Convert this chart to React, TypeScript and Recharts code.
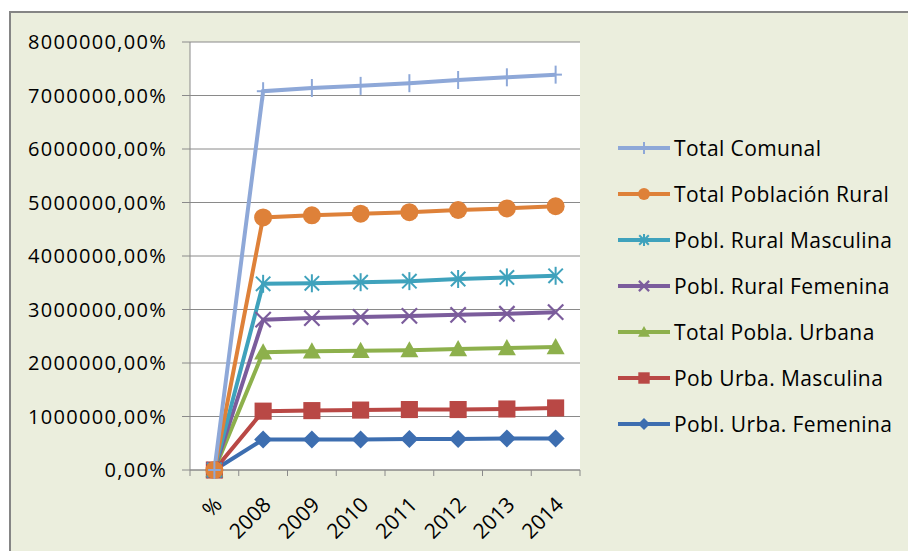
import React from 'react';
import { LineChart, Line, XAxis, YAxis, CartesianGrid } from 'recharts';

const categories = ['%', '2008', '2009', '2010', '2011', '2012', '2013', '2014'];

const totalComunal = [0, 7080000, 7140000, 7180000, 7230000, 7290000, 7340000, 7390000];
const totalRural = [0, 4720000, 4760000, 4790000, 4820000, 4860000, 4890000, 4930000];
const ruralMasculina = [0, 3480000, 3490000, 3510000, 3530000, 3570000, 3600000, 3630000];
const ruralFemenina = [0, 2810000, 2840000, 2860000, 2880000, 2900000, 2920000, 2950000];
const totalUrbana = [0, 2200000, 2220000, 2230000, 2240000, 2260000, 2280000, 2300000];
const urbanaMasculina = [0, 1100000, 1110000, 1120000, 1130000, 1130000, 1140000, 1160000];
const urbanaFemenina = [0, 570000, 570000, 570000, 580000, 580000, 590000, 590000];

const yTicks = [0, 1000000, 2000000, 3000000, 4000000, 5000000, 6000000, 7000000, 8000000];

type Shape = 'plus' | 'circle' | 'star' | 'x' | 'triangle' | 'square' | 'diamond';

const series: { key: string; name: string; color: string; shape: Shape; values: number[] }[] = [
  { key: 'comunal', name: 'Total Comunal', color: '#8EA8D8', shape: 'plus', values: totalComunal },
  { key: 'rural', name: 'Total Población Rural', color: '#DE8139', shape: 'circle', values: totalRural },
  { key: 'ruralM', name: 'Pobl. Rural Masculina', color: '#3FA2BC', shape: 'star', values: ruralMasculina },
  { key: 'ruralF', name: 'Pobl. Rural Femenina', color: '#7B5C9C', shape: 'x', values: ruralFemenina },
  { key: 'urbana', name: 'Total Pobla. Urbana', color: '#8DB04C', shape: 'triangle', values: totalUrbana },
  { key: 'urbanaM', name: 'Pob Urba. Masculina', color: '#B94845', shape: 'square', values: urbanaMasculina },
  { key: 'urbanaF', name: 'Pobl. Urba. Femenina', color: '#3D6EB0', shape: 'diamond', values: urbanaFemenina },
];

const chartData = categories.map((cat, i) => {
  const row: any = { cat };
  series.forEach(s => { row[s.key] = s.values[i]; });
  return row;
});

const FONT = '"Open Sans", Lato, sans-serif';
const AXIS = '#8a8a8a';
const PLOT_LEFT = 190;
const PLOT_RIGHT = 580;
const PLOT_TOP = 42;
const PLOT_BOTTOM = 470;
const HALF_BAND = (PLOT_RIGHT - PLOT_LEFT) / categories.length / 2;

function Marker({ shape, color, cx, cy, s }: { shape: Shape; color: string; cx: number; cy: number; s: number }) {
  switch (shape) {
    case 'plus':
      return (
        <g stroke={color} strokeWidth={2}>
          <line x1={cx} y1={cy - s} x2={cx} y2={cy + s} />
          <line x1={cx - s * 0.7} y1={cy} x2={cx + s * 0.7} y2={cy} />
        </g>
      );
    case 'circle':
      return <circle cx={cx} cy={cy} r={s} fill={color} />;
    case 'star':
      return (
        <g stroke={color} strokeWidth={2}>
          <line x1={cx - s * 0.8} y1={cy - s * 0.8} x2={cx + s * 0.8} y2={cy + s * 0.8} />
          <line x1={cx - s * 0.8} y1={cy + s * 0.8} x2={cx + s * 0.8} y2={cy - s * 0.8} />
          <line x1={cx} y1={cy - s} x2={cx} y2={cy + s} />
        </g>
      );
    case 'x':
      return (
        <g stroke={color} strokeWidth={2.2}>
          <line x1={cx - s * 0.85} y1={cy - s * 0.85} x2={cx + s * 0.85} y2={cy + s * 0.85} />
          <line x1={cx - s * 0.85} y1={cy + s * 0.85} x2={cx + s * 0.85} y2={cy - s * 0.85} />
        </g>
      );
    case 'triangle':
      return <polygon points={`${cx},${cy - s} ${cx + s},${cy + s * 0.8} ${cx - s},${cy + s * 0.8}`} fill={color} />;
    case 'square':
      return <rect x={cx - s * 0.95} y={cy - s * 0.95} width={s * 1.9} height={s * 1.9} fill={color} />;
    case 'diamond':
      return <polygon points={`${cx},${cy - s} ${cx + s},${cy} ${cx},${cy + s} ${cx - s},${cy}`} fill={color} />;
  }
  return null;
}

const XTick = ({ x, y, payload, index }: any) => (
  <g>
    <line x1={x - HALF_BAND} y1={y} x2={x - HALF_BAND} y2={y + 6} stroke={AXIS} />
    {index === categories.length - 1 && (
      <line x1={x + HALF_BAND} y1={y} x2={x + HALF_BAND} y2={y + 6} stroke={AXIS} />
    )}
    <text
      x={x + 9}
      y={y + 36}
      transform={`rotate(-45, ${x + 9}, ${y + 36})`}
      textAnchor="end"
      fontSize={21}
      fontFamily={FONT}
      fill="#000"
    >
      {payload.value}
    </text>
  </g>
);

export default function App() {
  return (
    <div style={{ position: 'absolute', left: 0, top: 0, width: 908, height: 551, background: '#fff', overflow: 'hidden' }}>
      <div
        style={{
          position: 'absolute',
          left: 9,
          top: 11,
          width: 899,
          height: 540,
          background: '#EBEEDD',
          borderTop: '2px solid #858585',
          borderLeft: '2px solid #858585',
        }}
      />
      <div style={{ position: 'absolute', left: 0, top: 0 }}>
        <LineChart width={908} height={551} data={chartData} margin={{ top: PLOT_TOP, right: 908 - PLOT_RIGHT, bottom: 0, left: 0 }}>
          <CartesianGrid vertical={false} stroke={AXIS} fill="#ffffff" fillOpacity={1} />
          <XAxis
            dataKey="cat"
            interval={0}
            padding={{ left: HALF_BAND, right: HALF_BAND }}
            tickSize={0}
            tickMargin={0}
            tickLine={false}
            stroke={AXIS}
            height={551 - PLOT_BOTTOM}
            tick={<XTick />}
          />
          <YAxis
            width={PLOT_LEFT}
            domain={[0, 8000000]}
            ticks={yTicks}
            interval={0}
            tickSize={8}
            tickMargin={15}
            stroke={AXIS}
            tick={{ fill: '#000', fontSize: 20, fontFamily: FONT, letterSpacing: 1.3 }}
            tickFormatter={(v: number) => `${v},00%`}
          />
          {[...series].reverse().map(s => (
            <Line
              key={s.key}
              dataKey={s.key}
              name={s.name}
              stroke={s.color}
              strokeWidth={4}
              isAnimationActive={false}
              dot={(p: any) => <Marker key={`${s.key}-${p.index}`} shape={s.shape} color={s.color} cx={p.cx} cy={p.cy} s={9} />}
              activeDot={false}
            />
          ))}
        </LineChart>
      </div>
      <div style={{ position: 'absolute', left: 618, top: 0 }}>
        {series.map((s, i) => (
          <div key={s.key} style={{ position: 'absolute', left: 0, top: 148 + i * 46 - 14, height: 28, display: 'flex', alignItems: 'center', whiteSpace: 'nowrap' }}>
            <svg width={54} height={28} style={{ display: 'block' }}>
              <line x1={0} y1={14} x2={52} y2={14} stroke={s.color} strokeWidth={4} />
              <Marker shape={s.shape} color={s.color} cx={26} cy={14} s={6} />
            </svg>
            <span style={{ marginLeft: 2, fontFamily: FONT, fontSize: 21, letterSpacing: 0.4, color: '#000' }}>{s.name}</span>
          </div>
        ))}
      </div>
    </div>
  );
}
